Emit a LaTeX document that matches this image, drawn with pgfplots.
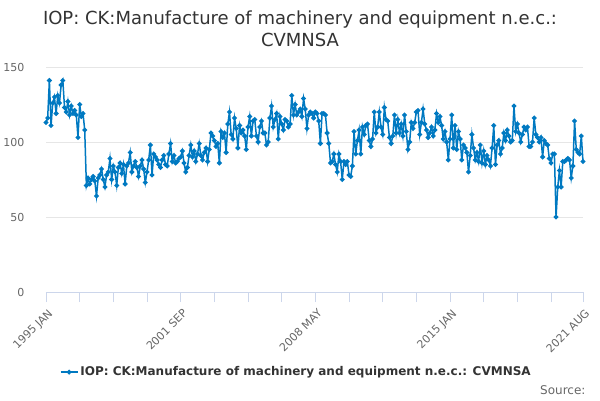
\documentclass[border=0pt]{standalone}
\usepackage{fontspec}
\setmainfont{DejaVu Sans}
\usepackage{pgfplots}
\usepackage{pgfplotstable}
\pgfplotsset{compat=1.18}
\definecolor{serc}{RGB}{0,121,193}
\definecolor{gridc}{RGB}{230,230,230}
\definecolor{axisc}{RGB}{204,214,235}
\definecolor{labc}{RGB}{102,102,102}
\definecolor{titc}{RGB}{51,51,51}
\pgfplotstableread{
v
113
116
141
111
126
130
119
131
126
138
141
123
120
127
118
124
119
121
118
103
125
117
119
108
71
76
72
75
77
74
64
76
78
82
75
70
78
80
89
75
84
80
71
83
86
79
85
72
84
86
93
80
84
87
83
77
84
88
82
73
80
88
98
78
92
90
88
85
83
88
91
85
84
92
99
87
91
86
87
89
90
94
86
80
83
91
98
90
94
87
92
99
91
88
93
96
87
95
106
104
101
97
99
86
107
103
106
93
112
120
105
102
116
109
96
111
106
108
104
95
110
117
104
114
115
104
100
110
114
106
106
98
100
116
124
110
115
119
102
117
112
108
115
114
110
112
131
118
125
118
120
122
117
129
122
109
118
120
119
116
120
119
114
99
119
119
118
106
99
86
87
92
85
80
92
87
75
87
85
87
78
77
84
107
92
101
108
92
110
105
111
112
101
97
102
120
106
110
120
110
105
123
115
114
103
99
104
118
106
115
106
112
104
118
107
95
100
113
109
113
120
121
105
113
122
112
108
103
106
110
104
108
119
113
117
111
102
107
100
88
102
118
96
111
95
107
102
88
98
96
93
80
91
105
96
88
93
87
98
86
94
85
91
88
84
96
111
85
98
101
92
96
106
101
108
104
100
101
124
107
112
106
100
105
110
108
110
97
97
100
116
105
103
100
103
90
101
99
98
89
86
92
92
50
70
81
70
87
87
88
89
88
76
84
114
95
93
92
104
87
}\iopdata
\begin{document}
\begin{tikzpicture}
\path[use as bounding box] (0pt,0pt) rectangle (600pt,400pt);
\begin{axis}[
  at={(46pt,108pt)}, anchor=south west,
  scale only axis, width=537pt, height=225pt,
  xmin=0, xmax=319, ymin=0, ymax=150,
  ytick={0,50,100,150},
  xtick={0,80,160,240,319},
  minor xtick={20,40,60,100,120,140,180,200,220,260,280,300},
  xticklabels={1995 JAN,2001 SEP,2008 MAY,2015 JAN,2021 AUG},
  ymajorgrids, grid style={color=gridc, line width=0.8pt},
  axis x line*=bottom, axis y line*=left,
  x axis line style={color=axisc, line width=0.8pt, -},
  y axis line style={draw=none},
  ytick style={draw=none},
  xtick style={color=axisc, line width=0.8pt},
  minor x tick style={color=axisc, line width=0.8pt},
  tick align=outside, major tick length=10pt, minor tick length=10pt,
  xticklabel style={rotate=45, anchor=north east, font=\fontsize{11}{13}\selectfont, text=labc, yshift=-2pt},
  yticklabel style={font=\fontsize{11}{13}\selectfont, text=labc, xshift=-8pt},
  /pgf/number format/assume math mode=true,
  legend style={at={(0.466,-0.356)}, anchor=center, draw=none, fill=none,
    font=\bfseries\fontsize{12}{14}\selectfont, text=titc},
  legend image post style={line width=1.5pt},
  clip=false,
]
\addplot[color=serc, line width=1.5pt, mark=*, mark size=1.6pt, mark options={fill=serc, draw=serc}]
  table[x expr=\coordindex, y=v] {\iopdata};
\addlegendentry{IOP: CK:Manufacture of machinery and equipment n.e.c.: CVMNSA}
\end{axis}
\node[font=\fontsize{18}{22}\selectfont, text=titc, align=center] at (300pt,371pt)
  {IOP: CK:Manufacture of machinery and equipment n.e.c.:\\CVMNSA};
\node[anchor=east, font=\fontsize{12}{14}\selectfont, text=labc] at (589pt,10pt) {Source:};
\end{tikzpicture}
\end{document}
